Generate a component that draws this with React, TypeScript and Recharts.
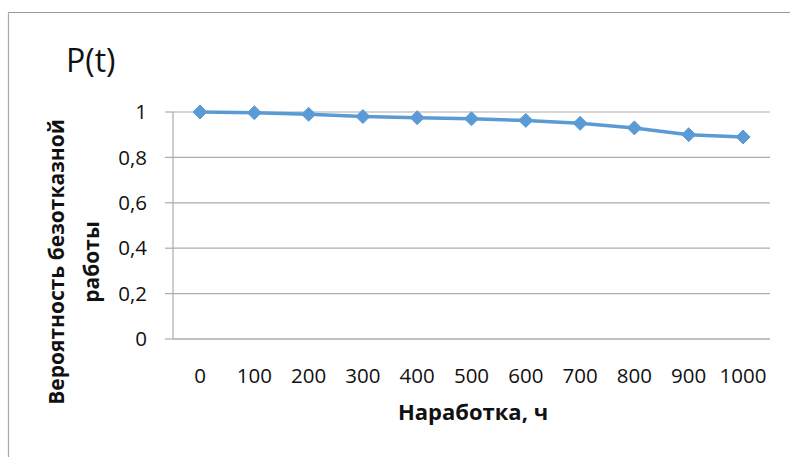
import { LineChart, Line, XAxis, YAxis, CartesianGrid } from 'recharts';

const hours = [0, 100, 200, 300, 400, 500, 600, 700, 800, 900, 1000];
const reliability = [1, 0.997, 0.99, 0.98, 0.975, 0.97, 0.963, 0.95, 0.93, 0.9, 0.89];
const yTicks = [0, 0.2, 0.4, 0.6, 0.8, 1];

const chartData = hours.map((t, i) => ({ t, p: reliability[i] }));

const FONT = '"Open Sans", sans-serif';
const GRID = '#ABABAB';
const BLUE = '#5B9BD5';

const Diamond = (props: any) => {
  const { cx, cy } = props;
  if (cx == null || cy == null) return null;
  const r = 7;
  return (
    <polygon
      points={`${cx},${cy - r} ${cx + r},${cy} ${cx},${cy + r} ${cx - r},${cy}`}
      fill={BLUE}
      stroke={BLUE}
      strokeWidth={1}
    />
  );
};

export default function App() {
  return (
    <div style={{ position: 'absolute', left: 0, top: 0, width: 790, height: 457, background: '#fff', overflow: 'hidden' }}>
      <LineChart
        width={790}
        height={457}
        data={chartData}
        margin={{ top: 112, right: 20, bottom: 58, left: 93 }}
      >
        <CartesianGrid vertical={false} stroke={GRID} strokeWidth={1.2} />
        <XAxis
          dataKey="t"
          height={60}
          padding={{ left: 27, right: 27 }}
          axisLine={{ stroke: GRID, strokeWidth: 1.2 }}
          tickLine={false}
          tickSize={0}
          tickMargin={29}
          tick={{ fill: '#111', fontSize: 20.5, fontFamily: FONT }}
          interval={0}
        />
        <YAxis
          width={80}
          domain={[0, 1]}
          ticks={yTicks}
          axisLine={{ stroke: GRID, strokeWidth: 1.2 }}
          tickLine={{ stroke: GRID, strokeWidth: 1.2 }}
          tickSize={8}
          tickMargin={18}
          tick={{ fill: '#111', fontSize: 20.5, fontFamily: FONT }}
          tickFormatter={(v: number) => String(v).replace('.', ',')}
        />
        <Line
          type="linear"
          dataKey="p"
          stroke={BLUE}
          strokeWidth={3.5}
          dot={<Diamond />}
          activeDot={false}
          isAnimationActive={false}
        />
      </LineChart>
      <svg
        width={790}
        height={457}
        style={{ position: 'absolute', left: 0, top: 0, pointerEvents: 'none' }}
      >
        <line x1={8.5} y1={12.5} x2={790} y2={12.5} stroke="#999" strokeWidth={1.2} />
        <line x1={8.5} y1={12.5} x2={8.5} y2={457} stroke="#AAA" strokeWidth={1.2} />
        <text x={66} y={72} fontFamily={FONT} fontSize={32} fill="#111">
          P(t)
        </text>
        <text
          x={473}
          y={420}
          textAnchor="middle"
          fontFamily={FONT}
          fontSize={22}
          fontWeight="bold"
          fill="#111"
        >
          Наработка, ч
        </text>
        <text
          transform="translate(64,262) rotate(-90)"
          textAnchor="middle"
          fontFamily={FONT}
          fontSize={21}
          fontWeight="bold"
          fill="#111"
        >
          Вероятность безотказной
        </text>
        <text
          transform="translate(99,262) rotate(-90)"
          textAnchor="middle"
          fontFamily={FONT}
          fontSize={21}
          fontWeight="bold"
          fill="#111"
        >
          работы
        </text>
      </svg>
    </div>
  );
}
